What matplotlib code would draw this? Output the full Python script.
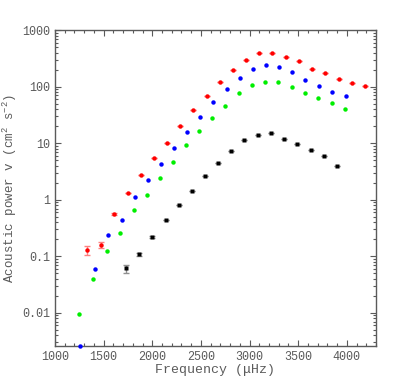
"""
Acoustic power of low-degree p modes versus frequency
"""
import numpy as np
from matplotlib import pyplot as plt
from matplotlib.ticker import FixedLocator, FuncFormatter, MultipleLocator

# l=1 modes (red)
freq_red = [1326, 1470, 1610, 1748, 1885, 2019, 2155, 2289, 2423, 2560, 2694,
            2828, 2965, 3099, 3233, 3370, 3507, 3644, 3778, 3915, 4052, 4189]
power_red = [0.130, 0.160, 0.56, 1.33, 2.7, 5.4, 10.2, 20, 38, 68.6, 121,
             197, 299, 388, 398, 334, 281, 207, 172, 137, 117, 103]
err_red = [0.023, 0.018, 0.03, 0, 0, 0, 0, 0, 0, 0, 0,
           0, 0, 0, 0, 0, 0, 0, 0, 0, 0, 0]

# l=0 modes (blue)
freq_blue = [1261, 1408, 1548, 1686, 1820, 1957, 2090, 2227, 2361, 2495, 2629,
             2766, 2900, 3034, 3171, 3304, 3441, 3575, 3713, 3850, 3987]
power_blue = [0.0026, 0.060, 0.235, 0.446, 1.10, 2.26, 4.33, 8.3, 15.5, 29.6,
              53.7, 90, 144, 207, 244, 222, 180, 131, 104, 79.6, 67.8]

# l=2 modes (green)
freq_green = [1250, 1394, 1535, 1672, 1809, 1943, 2080, 2217, 2351, 2485, 2618,
              2752, 2893, 3027, 3164, 3297, 3435, 3569, 3706, 3843, 3980]
power_green = [0.0095, 0.0405, 0.122, 0.255, 0.67, 1.23, 2.38, 4.64, 9.1, 16.1,
               28.4, 45.7, 76.6, 108, 121, 120, 98.8, 76.6, 63.2, 51.6, 39.9]

# l=3 modes (black)
freq_black = [1727, 1864, 2001, 2139, 2276, 2406, 2540, 2677, 2811, 2948,
              3085, 3219, 3356, 3493, 3627, 3764, 3901]
power_black = [0.061, 0.108, 0.22, 0.44, 0.82, 1.41, 2.66, 4.5, 7.35, 11.2,
               13.7, 15.1, 12.0, 9.5, 7.65, 6.0, 3.94]
err_black = [0.010, 0.008, 0.01, 0, 0, 0, 0, 0, 0, 0,
             0, 0, 0, 0, 0, 0, 0]

y_ticks = [0.01, 0.1, 1, 10, 100, 1000]
y_labels = ["0.01", "0.1", "1", "10", "100", "1000"]

plt.rcParams['font.family'] = ['Liberation Mono', 'DejaVu Sans']
plt.rcParams['mathtext.fontset'] = 'custom'
plt.rcParams['mathtext.rm'] = 'Liberation Mono'
plt.rcParams['mathtext.it'] = 'Liberation Mono'

grey = '#5a5a5a'
fig = plt.figure(figsize=(4.15, 3.9), dpi=100)
ax = fig.add_axes([0.1325, 0.1128, 0.7735, 0.8102])
ax.set_yscale('log')

ax.errorbar(freq_red, power_red, yerr=err_red, fmt='o', color='red',
            ms=3.2, mec='none', ecolor='#ff8080', elinewidth=1, capsize=2.5,
            capthick=1, zorder=3)
ax.plot(freq_blue, power_blue, 'o', color='blue', ms=3.2, mec='none',
        clip_on=False, zorder=3)
ax.plot(freq_green, power_green, 'o', color='#00ee00', ms=3.2, mec='none',
        zorder=3)
ax.errorbar(freq_black, power_black, yerr=err_black, fmt='s', color='black',
            ms=2.6, mec='none', ecolor='#909090', elinewidth=1, capsize=2,
            capthick=1, zorder=3)

ax.set_xlim(1000, 4300)
ax.set_ylim(0.0026, 1000)
ax.xaxis.set_major_locator(MultipleLocator(500))
ax.xaxis.set_minor_locator(MultipleLocator(100))
ax.yaxis.set_major_locator(FixedLocator(y_ticks))
ax.yaxis.set_major_formatter(FuncFormatter(
    lambda v, pos: y_labels[y_ticks.index(v)] if v in y_ticks else ""))

ax.tick_params(which='both', direction='in', top=True, right=True,
               colors=grey, labelcolor=grey, labelsize=8.5, width=0.8)
ax.tick_params(which='major', length=4)
ax.tick_params(which='minor', length=2)
for spine in ax.spines.values():
    spine.set_color(grey)
    spine.set_linewidth(1.0)

ax.set_xlabel("Frequency (\u03bcHz)", color=grey, fontsize=9.5, labelpad=1)
ax.set_ylabel("Acoustic power v (cm$^{2}$ s$^{-2}$)", color=grey,
              fontsize=9, labelpad=2)

fig.savefig("out.png", dpi=100)
